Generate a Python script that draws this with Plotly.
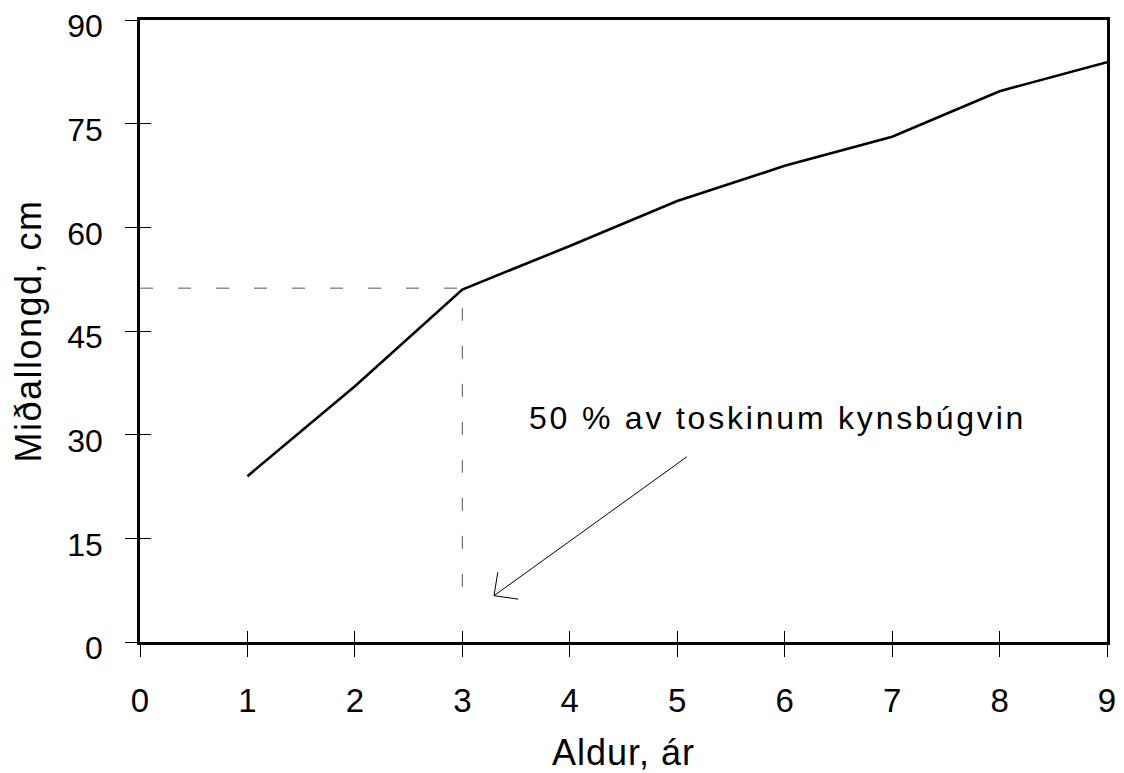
import plotly.graph_objects as go

# Data
age = [1, 2, 3, 4, 5, 6, 7, 8, 9]
length_cm = [24, 37, 51, 57.3, 63.8, 68.9, 73.1, 79.7, 83.9]

guide_x = [0, 3, 3]
guide_y = [51.2, 51.2, 6]

arrow_x = [5.09, 3.295, None, 3.33, 3.295, 3.52]
arrow_y = [26.8, 6.7, None, 10.1, 6.7, 6.2]

x_ticks = [0, 1, 2, 3, 4, 5, 6, 7, 8, 9]
y_ticks = [0, 15, 30, 45, 60, 75, 90]

x_title = "Aldur, ár"
y_title = "Miðallongd, cm"
note_text = "50 % av toskinum kynsbúgvin"
note_x, note_y = 3.6, 32.4

FONT = "Arial, Liberation Sans, sans-serif"


def spaced(s, px):
    return f'<span style="letter-spacing:{px}px">{s}</span>'


fig = go.Figure()
fig.add_trace(go.Scatter(x=guide_x, y=guide_y, mode="lines",
                         line=dict(color="#555555", width=1, dash="13px,25px"),
                         hoverinfo="skip", showlegend=False))
fig.add_trace(go.Scatter(x=age, y=length_cm, mode="lines",
                         line=dict(color="black", width=2.6),
                         showlegend=False))
fig.add_trace(go.Scatter(x=arrow_x, y=arrow_y, mode="lines",
                         line=dict(color="black", width=1),
                         hoverinfo="skip", showlegend=False))
# invisible trace on overlay axes for inner tick marks
fig.add_trace(go.Scatter(x=[None], y=[None], xaxis="x2", yaxis="y2",
                         showlegend=False, hoverinfo="skip"))

fig.add_annotation(x=note_x, y=note_y, xref="x", yref="y", text=spaced(note_text, 2.8),
                   showarrow=False, xanchor="left", yanchor="middle",
                   font=dict(family=FONT, size=32, color="black"))

common_x = dict(range=[0, 9], tickvals=x_ticks, showgrid=False, zeroline=False, automargin=False)
common_y = dict(range=[0, 90], tickvals=y_ticks, showgrid=False, zeroline=False, automargin=False)

fig.update_layout(
    width=1116, height=765,
    margin=dict(l=132, r=17, t=12, b=131),
    paper_bgcolor="white", plot_bgcolor="white",
    xaxis=dict(**common_x, ticks="outside", ticklen=12, tickwidth=1.3, tickcolor="black",
               showline=True, linecolor="black", linewidth=2.5, mirror=True,
               tickfont=dict(family=FONT, size=33, color="black"),
               ticklabelstandoff=16, ticklabeloverflow="allow",
               title=dict(text=spaced(x_title, 1), font=dict(family=FONT, size=36, color="black"), standoff=22)),
    yaxis=dict(**common_y, ticks="outside", ticklen=12, tickwidth=1.3, tickcolor="black",
               showline=True, linecolor="black", linewidth=2.5, mirror=True,
               tickfont=dict(family=FONT, size=32, color="black"),
               ticklabelstandoff=16, ticklabelshift=6, ticklabeloverflow="allow",
               title=dict(text=spaced(y_title, 1.5), font=dict(family=FONT, size=36, color="black"), standoff=18)),
    xaxis2=dict(**common_x, overlaying="x", side="bottom", ticks="inside", ticklen=11,
                tickwidth=1.3, tickcolor="black", showticklabels=False, showline=False),
    yaxis2=dict(**common_y, overlaying="y", side="left", ticks="inside", ticklen=11,
                tickwidth=1.3, tickcolor="black", showticklabels=False, showline=False),
)

fig.write_html("out.html")
